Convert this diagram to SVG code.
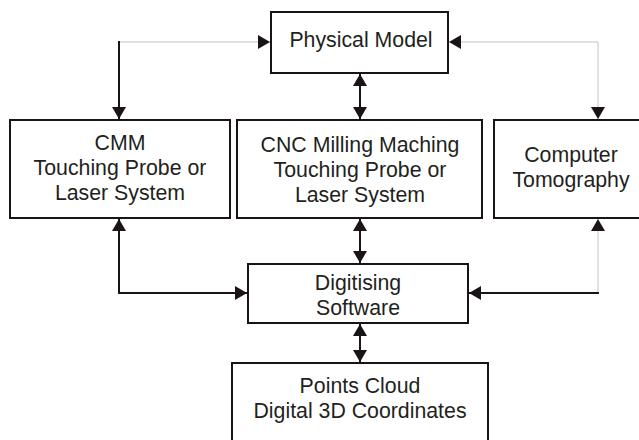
<svg xmlns="http://www.w3.org/2000/svg" width="639" height="440" viewBox="0 0 639 440">
<style>
.box{fill:#fff;stroke:#1a1414;stroke-width:2}
.t{font-family:"Liberation Sans",Arial,sans-serif;font-size:21.3px;fill:#231f20;text-anchor:middle}
.k{fill:none;stroke:#1a1414;stroke-width:2}
.g{fill:none;stroke:#c4c4c4;stroke-width:1}
</style>
<defs>
<marker id="a" viewBox="0 0 12 14" refX="12" refY="7" markerWidth="12" markerHeight="14" markerUnits="userSpaceOnUse" orient="auto-start-reverse">
<path d="M0,0 L12,7 L0,14 z" fill="#1a1414"/>
</marker>
</defs>
<rect width="639" height="440" fill="#fff"/>
<g id="connectors">
<path class="g" d="M119,42 H270" marker-end="url(#a)"/>
<path class="k" d="M119,41 V119" marker-end="url(#a)"/>
<path class="g" d="M449,42 H598 V119" marker-start="url(#a)" marker-end="url(#a)"/>
<path class="k" d="M360,74 V119" marker-start="url(#a)" marker-end="url(#a)"/>
<path class="k" d="M119,219 V293 H247" marker-start="url(#a)" marker-end="url(#a)"/>
<path class="k" d="M360,219 V263" marker-start="url(#a)" marker-end="url(#a)"/>
<path class="g" d="M598,219 V293" marker-start="url(#a)"/>
<path class="k" d="M599,293 H469" marker-end="url(#a)"/>
<path class="k" d="M360,324 V362" marker-start="url(#a)" marker-end="url(#a)"/>
</g>
<g id="physical-model">
<rect class="box" x="271" y="12" width="177" height="61"/>
<text class="t" x="361" y="47">Physical Model</text>
</g>
<g id="cmm">
<rect class="box" x="10" y="120" width="220" height="98"/>
<text class="t" x="120" y="150">CMM</text>
<text class="t" x="120" y="175">Touching Probe or</text>
<text class="t" x="120" y="200">Laser System</text>
</g>
<g id="cnc">
<rect class="box" x="237" y="120" width="245" height="98"/>
<text class="t" x="360" y="152">CNC Milling Maching</text>
<text class="t" x="360" y="177">Touching Probe or</text>
<text class="t" x="360" y="202">Laser System</text>
</g>
<g id="ct">
<rect class="box" x="494" y="120" width="154" height="98"/>
<text class="t" x="571" y="162">Computer</text>
<text class="t" x="571" y="187">Tomography</text>
</g>
<g id="digitising">
<rect class="box" x="248" y="264" width="220" height="59"/>
<text class="t" x="358" y="290">Digitising</text>
<text class="t" x="358" y="315">Software</text>
</g>
<g id="points-cloud">
<rect class="box" x="232" y="363" width="256" height="90"/>
<text class="t" x="360" y="393">Points Cloud</text>
<text class="t" x="360" y="418">Digital 3D Coordinates</text>
</g>
</svg>
